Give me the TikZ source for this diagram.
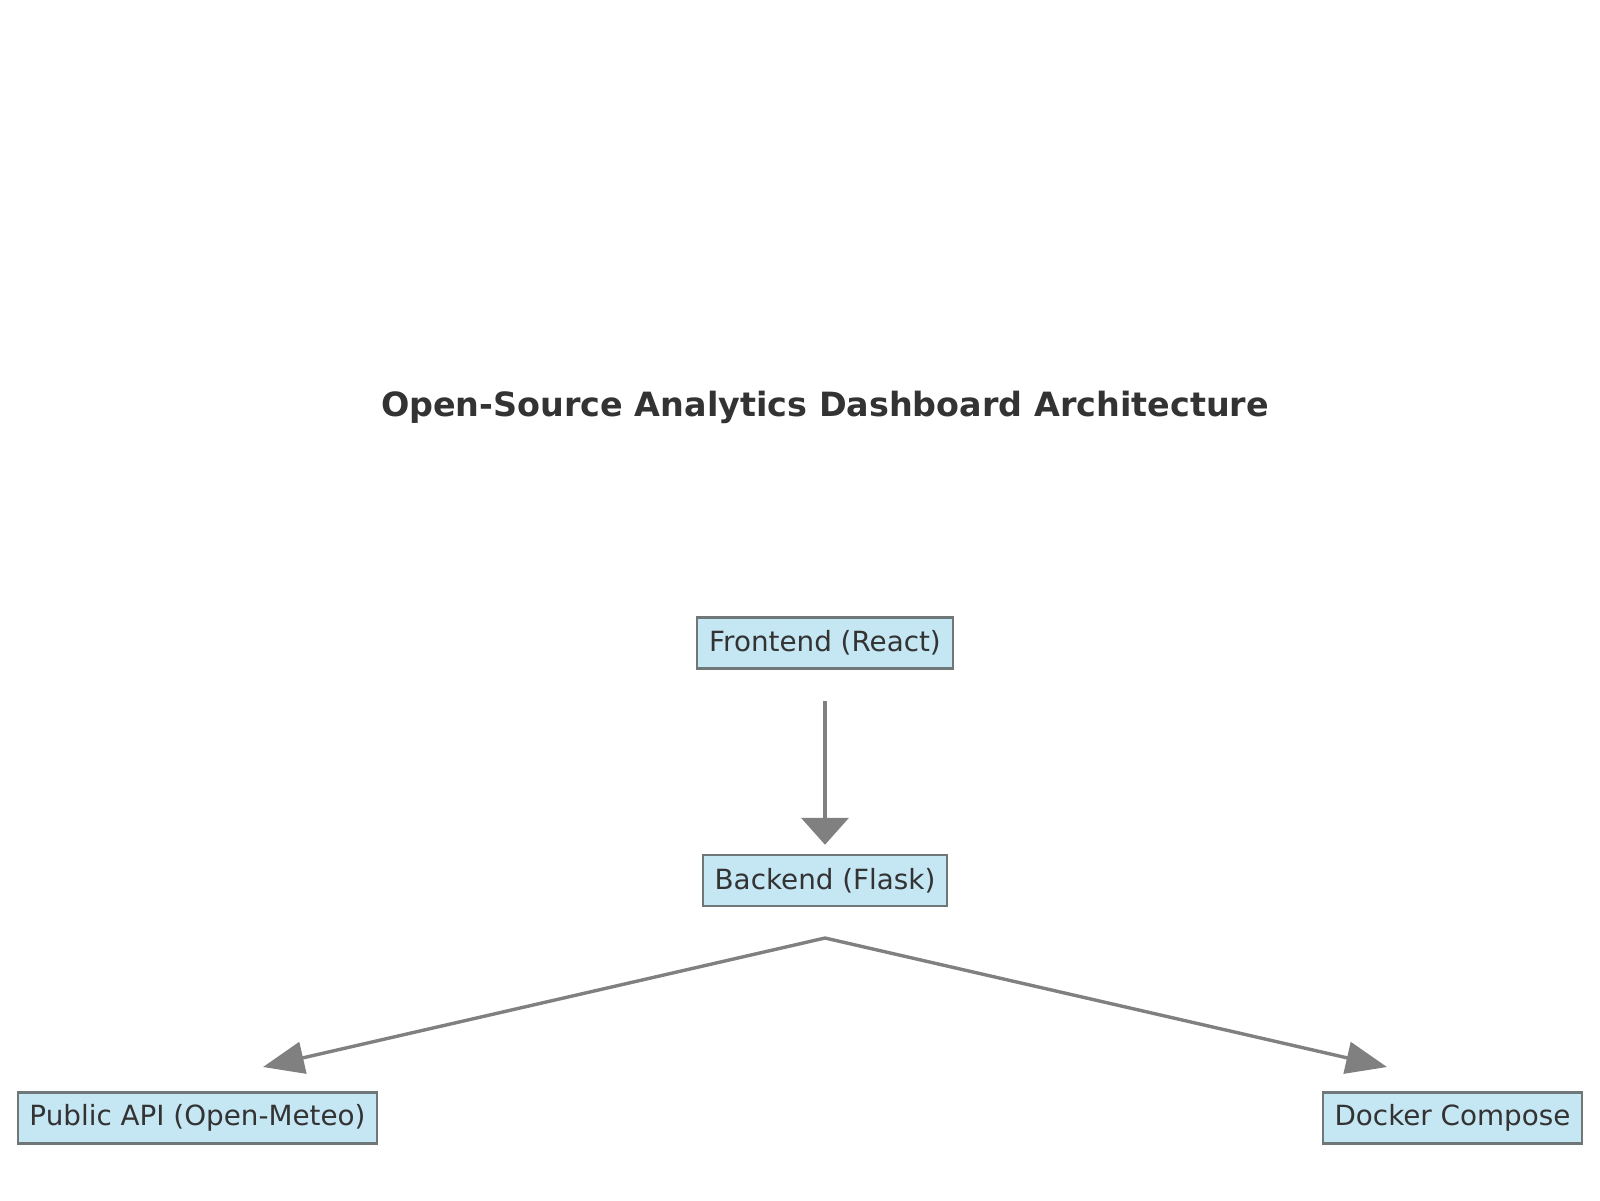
\documentclass[tikz,border=0pt]{standalone}
\usepackage{fontspec}
\setmainfont{DejaVu Sans}
\usetikzlibrary{arrows.meta}
\definecolor{boxfill}{HTML}{C5E6F3}
\definecolor{boxline}{HTML}{6F7779}
\definecolor{inktext}{HTML}{333333}
\definecolor{arrowgray}{HTML}{808080}
\begin{document}
\begin{tikzpicture}[x=0.5pt,y=-0.5pt,
    comp/.style={draw=boxline, line width=1.25pt, fill=boxfill, text=inktext,
      font=\fontsize{13.9}{16}\selectfont, inner sep=0pt, minimum height=25.5pt},
    flow/.style={draw=arrowgray, line width=2.2pt,
      -{Triangle[length=13.5pt,width=23.5pt]}},
    branch/.style={draw=arrowgray, line width=1.7pt,
      {Triangle[length=20.5pt,width=16pt]}-{Triangle[length=20.5pt,width=16pt]}}]
  \useasboundingbox (0,0) rectangle (1600,1200);

  \node [font=\bfseries\fontsize{16.7}{20}\selectfont, text=inktext] (title) at (825,407)
    {Open-Source Analytics Dashboard Architecture};

  \node [comp, minimum width=128pt] (front) at (825,643) {Frontend (React)};
  \node [comp, minimum width=122pt] (back) at (825,880.5) {Backend (Flask)};
  \node [comp, minimum width=179.5pt] (api) at (197.5,1118) {Public API (Open-Meteo)};
  \node [comp, minimum width=129.5pt] (docker) at (1452.5,1118) {Docker Compose};

  \coordinate (fork) at (825,938);
  \coordinate (apitip) at (263,1067);
  \coordinate (dockertip) at (1387,1067);

  \draw [flow, shorten <=15.5pt, shorten >=4.5pt] (front) -- (back);
  \draw [branch] (apitip) -- (fork) -- (dockertip);
\end{tikzpicture}
\end{document}
